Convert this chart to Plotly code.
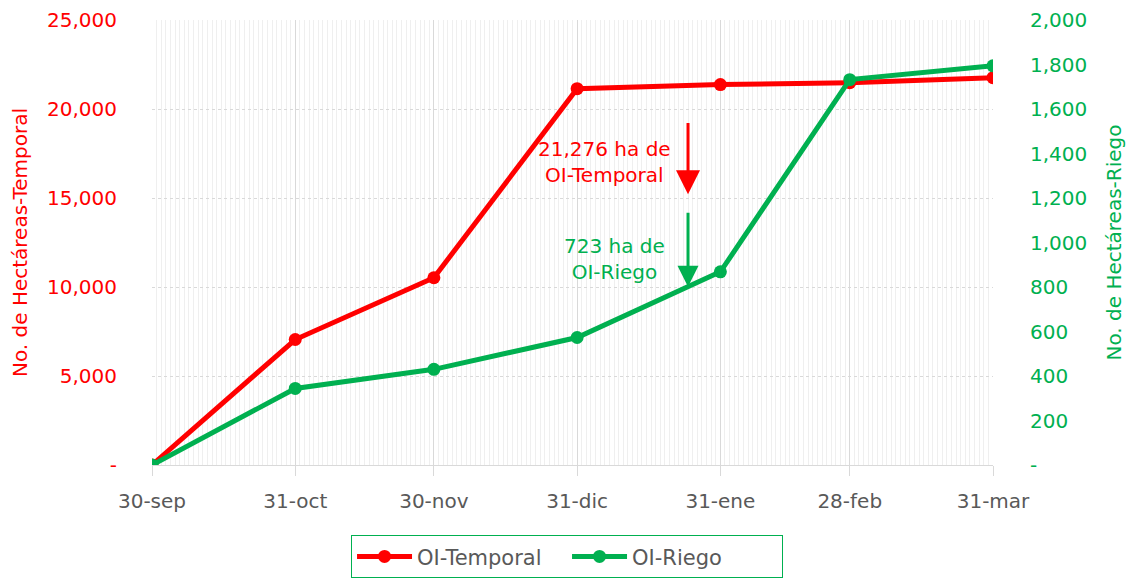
import plotly.graph_objects as go

fechas = ["2022-09-30", "2022-10-31", "2022-11-30", "2022-12-31", "2023-01-31", "2023-02-28", "2023-03-31"]
etiquetas = ["30-sep", "31-oct", "30-nov", "31-dic", "31-ene", "28-feb", "31-mar"]
temporal = [0, 7050, 10520, 21140, 21370, 21480, 21760]
riego = [0, 344, 430, 573, 868, 1732, 1794]

izq_vals = [0, 5000, 10000, 15000, 20000, 25000]
izq_text = ["-", "5,000", "10,000", "15,000", "20,000", "25,000"]
der_vals = list(range(0, 2001, 200))
der_text = ["-"] + [f"{v:,}" for v in der_vals[1:]]

ROJO = "#FF0000"
VERDE = "#00B050"
GRIS = "#595959"
FONT = "DejaVu Sans"

fig = go.Figure()
fig.add_trace(go.Scatter(x=fechas, y=temporal, name="OI-Temporal", mode="lines+markers",
                         line=dict(color=ROJO, width=5), marker=dict(size=13, color=ROJO)))
fig.add_trace(go.Scatter(x=fechas, y=riego, name="OI-Riego", mode="lines+markers", yaxis="y2",
                         line=dict(color=VERDE, width=5), marker=dict(size=13, color=VERDE)))

fig.update_layout(
    width=1135, height=582,
    margin=dict(l=144, r=150, t=12, b=123),
    plot_bgcolor="white", paper_bgcolor="white",
    font=dict(family=FONT, size=20, color=GRIS),
    showlegend=True,
    legend=dict(orientation="h", x=0.4935, xanchor="center", y=-0.158, yanchor="top",
                bordercolor=VERDE, borderwidth=1, font=dict(size=21, color=GRIS),
                entrywidth=145, itemwidth=55),
    xaxis=dict(type="date", range=["2022-09-30", "2023-03-31"], automargin=False,
               tickmode="array", tickvals=fechas, ticktext=etiquetas,
               showgrid=True, gridcolor="#d9d9d9", gridwidth=1,
               ticks="outside", ticklen=10, tickcolor="#d9d9d9", ticklabelstandoff=8,
               tickfont=dict(size=20, color=GRIS),
               minor=dict(dtick=86400000, tick0="2022-09-30", showgrid=True, gridcolor="#efefef", gridwidth=1),
               showline=True, linecolor="#d9d9d9", zeroline=False),
    yaxis=dict(range=[0, 25000], tickmode="array", tickvals=izq_vals, ticktext=izq_text,
               automargin=False,
               showgrid=True, gridcolor="#d9d9d9", griddash="dot", gridwidth=1,
               zeroline=False, showline=False, ticks="", ticklabelstandoff=34,
               tickfont=dict(size=20, color=ROJO),
               title=dict(text="No. de Hectáreas-Temporal", font=dict(size=20, color=ROJO), standoff=14)),
    yaxis2=dict(range=[0, 2000], overlaying="y", side="right", tickmode="array",
                automargin=False,
                tickvals=der_vals, ticktext=der_text, showgrid=False, zeroline=False,
                ticks="", ticklabelstandoff=36,
                tickfont=dict(size=20, color=VERDE),
                title=dict(text="No. de Hectáreas-Riego", font=dict(size=20, color=VERDE), standoff=20)),
)

# Flechas
fig.add_annotation(x="2023-01-24", y=15213, ax="2023-01-24", ay=19295, xref="x", yref="y",
                   axref="x", ayref="y", showarrow=True, arrowhead=2, arrowsize=1.6,
                   arrowwidth=3, arrowcolor=ROJO, text="")
fig.add_annotation(x="2023-01-24", y=10011, ax="2023-01-24", ay=14262, xref="x", yref="y",
                   axref="x", ayref="y", showarrow=True, arrowhead=2, arrowsize=1.4,
                   arrowwidth=3, arrowcolor=VERDE, text="")
# Textos
fig.add_annotation(x="2023-01-06", y=17002, xref="x", yref="y", showarrow=False,
                   text="21,276 ha de<br>OI-Temporal", font=dict(size=20, color=ROJO), align="center")
fig.add_annotation(x="2023-01-08", y=11577, xref="x", yref="y", showarrow=False,
                   text="723 ha de<br>OI-Riego", font=dict(size=20, color=VERDE), align="center")

fig.write_html("out.html")
